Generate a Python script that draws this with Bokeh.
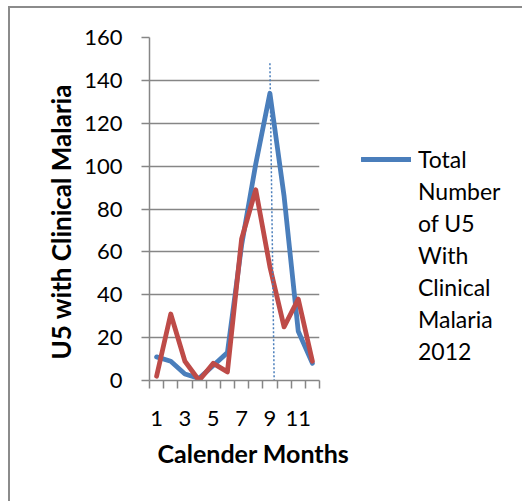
from bokeh.plotting import figure
from bokeh.models import FixedTicker, Legend, LegendItem, Range1d, Title
from bokeh.embed import file_html
from bokeh.resources import INLINE

# ---- data ----
months = [1, 2, 3, 4, 5, 6, 7, 8, 9, 10, 11, 12]
total_u5_2012 = [11, 9, 3, 1, 7, 13, 63, 101, 134, 86, 23, 8]
second_series = [2, 31, 9, 0, 8, 4, 66, 89, 53, 25, 38, 9]
y_ticks = [0, 20, 40, 60, 80, 100, 120, 140, 160]
x_label_months = [1, 3, 5, 7, 9, 11]
marker_month = [9.0, 9.3]      # dotted marker (top, bottom)
marker_value = [148, 0]

legend_lines = ["Total", "Number", "of U5", "With", "Clinical", "Malaria", "2012"]
x_title = "Calender Months"
y_title = "U5 with Clinical Malaria"

BLUE = "#4a7ebb"
RED = "#be4b48"
GREY = "#868686"
FONT = "Lato"

p = figure(frame_width=170, frame_height=343,
           x_range=Range1d(0.5, 12.5), y_range=Range1d(0, 160),
           output_backend="svg", toolbar_location=None,
           min_border_left=139, min_border_right=0,
           min_border_top=29, min_border_bottom=121)
p.styles = {"margin-left": "8px", "margin-top": "6px",
            "border-left": "2px solid #8b8b8b", "border-top": "2px solid #8b8b8b"}
p.outline_line_color = None
p.background_fill_color = "white"
p.border_fill_color = "white"

p.xgrid.visible = False
p.ygrid.grid_line_color = GREY
p.ygrid.grid_line_width = 1.5
p.ygrid.ticker = FixedTicker(ticks=y_ticks)

ya = p.yaxis[0]
ya.ticker = FixedTicker(ticks=y_ticks)
ya.axis_line_color = GREY
ya.axis_line_width = 1.5
ya.major_tick_out = 8
ya.major_tick_in = 0
ya.major_tick_line_color = GREY
ya.major_tick_line_width = 1.5
ya.minor_tick_out = 0
ya.minor_tick_in = 0
ya.major_label_text_font = FONT
ya.major_label_text_font_size = "22px"
ya.major_label_text_color = "black"
ya.major_label_standoff = 19

boundaries = [m - 0.5 for m in months] + [months[-1] + 0.5]
xa = p.xaxis[0]
xa.ticker = FixedTicker(ticks=x_label_months, minor_ticks=boundaries)
xa.axis_line_color = GREY
xa.axis_line_width = 1.5
xa.major_tick_out = 0
xa.major_tick_in = 0
xa.minor_tick_out = 8
xa.minor_tick_in = 0
xa.minor_tick_line_color = GREY
xa.minor_tick_line_width = 1.5
xa.major_label_text_font = FONT
xa.major_label_text_font_size = "22px"
xa.major_label_text_color = "black"
xa.major_label_standoff = 22

r_blue = p.line(months, total_u5_2012, line_color=BLUE, line_width=4.8,
                line_join="round", line_cap="round")
r_red = p.line(months, second_series, line_color=RED, line_width=4.8,
               line_join="round", line_cap="round")
p.line(marker_month, marker_value, line_color=BLUE, line_width=1.5, line_dash="2 2")

r_blank = p.line(x=[], y=[], line_alpha=0)
items = [LegendItem(label=legend_lines[0], renderers=[r_blue])]
items += [LegendItem(label=t, renderers=[r_blank]) for t in legend_lines[1:]]
legend = Legend(items=items, location=(42, 13), padding=0, margin=0, spacing=0,
                glyph_width=50, glyph_height=32, label_height=32,
                label_standoff=7, border_line_alpha=0, background_fill_alpha=0,
                label_text_font=FONT, label_text_font_size="23px",
                label_text_color="black")
p.add_layout(legend, "right")

p.add_layout(Title(text=x_title, align="left", offset=8, standoff=14, text_font=FONT,
                   text_font_size="25px", text_font_style="bold",
                   text_color="black"), "below")
p.add_layout(Title(text=y_title, align="left", offset=21, text_font=FONT,
                   text_font_size="26px", text_font_style="bold",
                   text_color="black"), "left")

open("out.html", "w").write(file_html(p, INLINE))
